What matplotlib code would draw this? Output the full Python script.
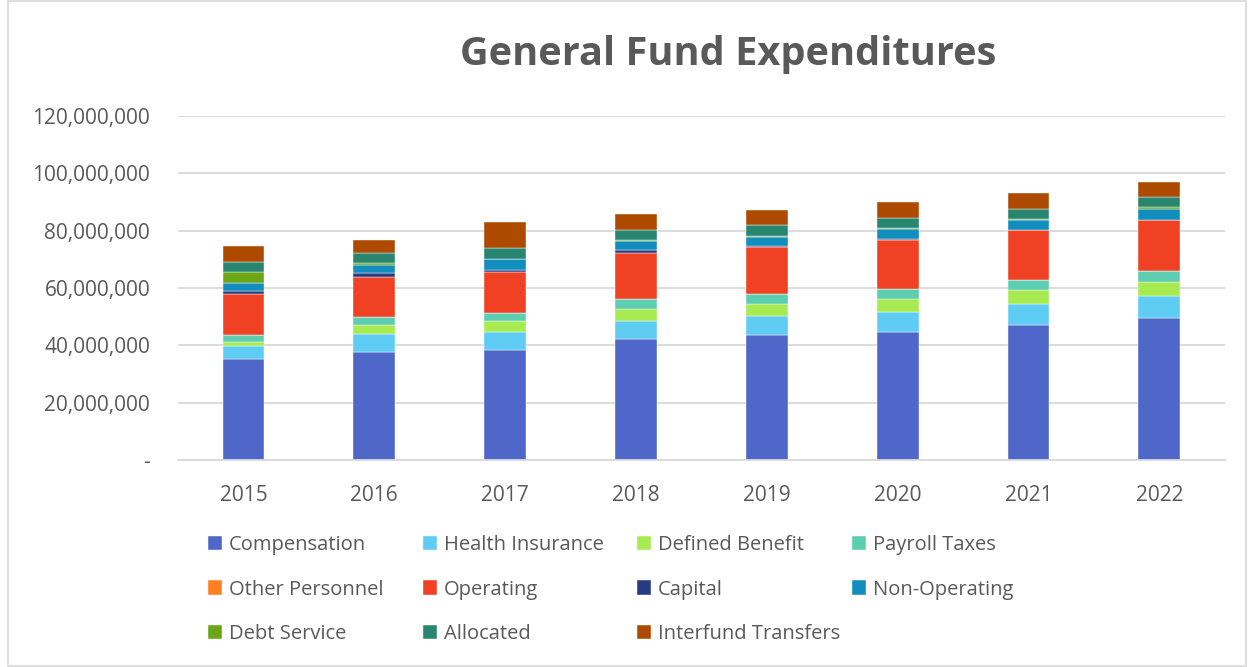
import matplotlib.pyplot as plt
from matplotlib.patches import Rectangle
from matplotlib.ticker import FuncFormatter

years = ['2015', '2016', '2017', '2018', '2019', '2020', '2021', '2022']

# values in millions
compensation = [35.1, 37.8, 38.5, 42.2, 43.6, 44.8, 47.1, 49.4]
health_insurance = [4.7, 6.1, 6.0, 6.4, 6.5, 6.9, 7.4, 7.8]
defined_benefit = [1.4, 3.1, 4.0, 4.2, 4.4, 4.5, 4.8, 5.0]
payroll_taxes = [2.5, 2.8, 2.7, 3.3, 3.3, 3.3, 3.5, 3.7]
other_personnel = [0.0, 0.0, 0.0, 0.0, 0.0, 0.0, 0.0, 0.0]
operating = [14.1, 13.9, 14.4, 16.2, 16.5, 17.1, 17.4, 17.9]
capital = [1.2, 1.4, 0.8, 0.8, 0.3, 0.6, 0.1, 0.1]
non_operating = [2.8, 3.0, 3.6, 3.4, 3.2, 3.4, 3.6, 3.7]
debt_service = [3.9, 0.7, 0.1, 0.1, 0.3, 0.3, 0.3, 0.5]
allocated = [3.5, 3.3, 3.7, 3.6, 3.8, 3.4, 3.4, 3.5]
interfund_transfers = [5.4, 4.6, 9.2, 5.6, 5.3, 5.6, 5.5, 5.5]

series = [
    ('Compensation', compensation, '#4E67C8'),
    ('Health Insurance', health_insurance, '#5ECCF3'),
    ('Defined Benefit', defined_benefit, '#A7EA52'),
    ('Payroll Taxes', payroll_taxes, '#5DCEAF'),
    ('Other Personnel', other_personnel, '#FF8021'),
    ('Operating', operating, '#F14124'),
    ('Capital', capital, '#263B82'),
    ('Non-Operating', non_operating, '#118DBE'),
    ('Debt Service', debt_service, '#6AA616'),
    ('Allocated', allocated, '#278570'),
    ('Interfund Transfers', interfund_transfers, '#AE4A00'),
]

plt.rcParams['font.family'] = ['Open Sans', 'DejaVu Sans']
txt = '#595959'

fig = plt.figure(figsize=(12.51, 6.67), dpi=100)
ax = fig.add_axes([0.1423, 0.3103, 0.8367, 0.5157])

x = range(len(years))
bottom = [0.0] * len(years)
handles = []
for name, vals, col in series:
    v = [a * 1e6 for a in vals]
    b = ax.bar(x, v, 0.32, bottom=bottom, color=col, label=name,
               edgecolor='white', linewidth=0.3)
    handles.append(b)
    bottom = [p + q for p, q in zip(bottom, v)]

ax.set_ylim(0, 120e6)
ax.set_xlim(-0.5, len(years) - 0.5)
ax.set_yticks(range(0, 120000001, 20000000))
ax.yaxis.set_major_formatter(FuncFormatter(lambda v, p: '-' if v == 0 else '{:,.0f}'.format(v)))
ax.set_xticks(list(x))
ax.set_xticklabels(years)
ax.grid(axis='y', color='#D9D9D9', linewidth=1.3)
ax.set_axisbelow(True)
for s in ['top', 'right', 'left']:
    ax.spines[s].set_visible(False)
ax.spines['bottom'].set_color('#D9D9D9')
ax.spines['bottom'].set_linewidth(1.3)
ax.tick_params(axis='both', length=0, labelsize=15, labelcolor=txt)
ax.tick_params(axis='y', pad=20)
ax.tick_params(axis='x', pad=18)

fig.text(0.582, 0.918, 'General Fund Expenditures', ha='center', va='center',
         fontsize=28.6, fontweight='bold', color=txt)

# legend laid out row by row, one legend per column
col_x = [0.166, 0.338, 0.509, 0.681]
for c in range(4):
    h = handles[c::4]
    lab = [series[i][0] for i in range(c, len(series), 4)]
    lg = fig.legend(h, lab, loc='upper left', bbox_to_anchor=(col_x[c], 0.198),
                    frameon=False, fontsize=14.5, handlelength=0.7, handleheight=0.7,
                    handletextpad=0.35, labelspacing=1.22, borderpad=0, borderaxespad=0)
    for t in lg.get_texts():
        t.set_color(txt)

fig.patches.append(Rectangle((0.006, 0.002), 0.99, 0.996, transform=fig.transFigure,
                             fill=False, edgecolor='#D9D9D9', linewidth=1.2))

fig.savefig('out.png', dpi=100)
